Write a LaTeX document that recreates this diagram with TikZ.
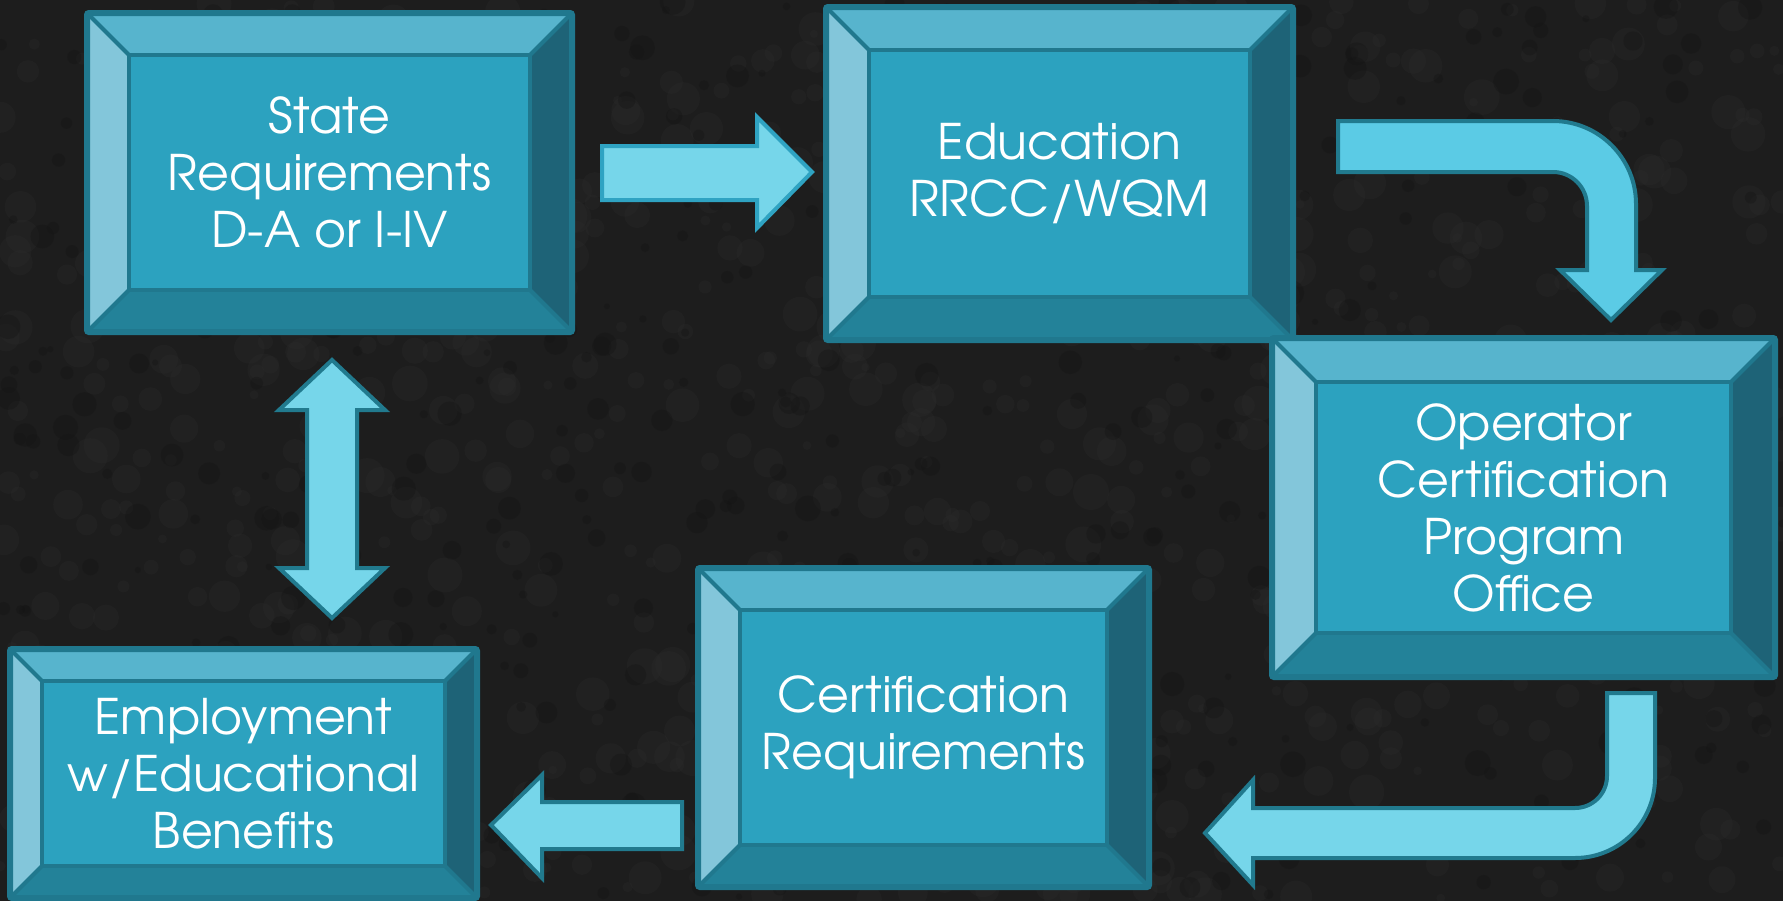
\documentclass[tikz,border=0pt]{standalone}
\usepackage{fontspec}
\setmainfont{texgyreadventor-regular.otf}
\begin{document}
\begin{tikzpicture}[x=1pt,y=-1pt]
\definecolor{bgcol}{HTML}{1D1D1D}
\definecolor{bgspeck}{HTML}{2A2A2A}
\definecolor{bgdark}{HTML}{141414}
\definecolor{facecol}{HTML}{2CA2BF}
\definecolor{topcol}{HTML}{57B4CD}
\definecolor{leftcol}{HTML}{83C6DA}
\definecolor{rightcol}{HTML}{1E6377}
\definecolor{botcol}{HTML}{238299}
\definecolor{edgecol}{HTML}{20788E}
\definecolor{arrowfill}{HTML}{76D6EA}
\definecolor{arrowfillb}{HTML}{5BCBE5}
\definecolor{arrowedge}{HTML}{217A8E}
\definecolor{arrowedgeb}{HTML}{2FA3C2}
\tikzset{
  boxtext/.style={text=white, align=center, inner sep=0pt,
    font=\fontsize{49}{57}\selectfont},
  blockarrow/.style={fill=arrowfill, draw=arrowedge, line width=4pt, line join=miter},
  bevline/.style={draw=edgecol, line width=4pt},
}
\newcommand\bevbox[7]{%
  \pgfmathsetmacro\ia{#2+#6}\pgfmathsetmacro\ib{#3+#6}%
  \pgfmathsetmacro\ic{#4-#6}\pgfmathsetmacro\id{#5-#6}%
  \fill[facecol] (\ia,\ib) rectangle (\ic,\id);
  \fill[topcol] (#2,#3) -- (#4,#3) -- (\ic,\ib) -- (\ia,\ib) -- cycle;
  \fill[leftcol] (#2,#3) -- (\ia,\ib) -- (\ia,\id) -- (#2,#5) -- cycle;
  \fill[rightcol] (#4,#3) -- (#4,#5) -- (\ic,\id) -- (\ic,\ib) -- cycle;
  \fill[botcol] (#2,#5) -- (#4,#5) -- (\ic,\id) -- (\ia,\id) -- cycle;
  \draw[bevline] (\ia,\ib) rectangle (\ic,\id);
  \draw[bevline] (#2,#3) -- (\ia,\ib) (#4,#3) -- (\ic,\ib) (#2,#5) -- (\ia,\id) (#4,#5) -- (\ic,\id);
  \draw[draw=edgecol, line width=6pt, rounded corners=2pt] (#2,#3) rectangle (#4,#5);
  \node[boxtext] (#1) at ({(#2+#4)/2},{(#3+#5)/2}) {#7};
}
\useasboundingbox (0,0) rectangle (1783,900);
% background (extends past the page edge on purpose)
\fill[bgcol] (-20,-20) rectangle (1803,920);
\begin{scope}
\clip (-20,-20) rectangle (1803,920);
\pgfmathsetseed{7}
\foreach \i in {1,...,900}{
  \pgfmathsetmacro\rx{rnd*1783}\pgfmathsetmacro\ry{rnd*900}\pgfmathsetmacro\rr{4+rnd*14}
  \fill[bgspeck, opacity=0.35] (\rx,\ry) circle (\rr);
}
\foreach \i in {1,...,500}{
  \pgfmathsetmacro\rx{rnd*1783}\pgfmathsetmacro\ry{rnd*900}\pgfmathsetmacro\rr{3+rnd*10}
  \fill[bgdark, opacity=0.35] (\rx,\ry) circle (\rr);
}
\end{scope}

% boxes
\bevbox{state}{87}{13}{572}{332}{42}{State\\Requirements\\D-A or I-IV}
\bevbox{edu}{826}{7}{1293}{340}{43}{Education\\RRCC/WQM}
\bevbox{ocpo}{1272}{338}{1775}{677}{44}{Operator\\Certification\\Program\\Office}
\bevbox{certreq}{698}{568}{1149}{887}{42}{Certification\\Requirements}
\bevbox{employ}{10}{649}{477}{898}{32}{Employment\\w/Educational\\Benefits}

% arrows
\path[blockarrow, draw=arrowedgeb] (602,146) -- (757,146) -- (757,117) -- (812,172) -- (757,228) -- (757,200) -- (602,200) -- cycle;

\path[blockarrow, fill=arrowfillb] (1338,121) -- (1553,121) .. controls (1598.8,121) and (1636,158.2) .. (1636,204) -- (1636,270) -- (1662,270) -- (1611,320) -- (1560,270) -- (1587,270) -- (1587,206) .. controls (1587,187.2) and (1571.8,172) .. (1553,172) -- (1338,172) -- cycle;

\path[blockarrow] (1607,693) -- (1655,693) -- (1655,778) .. controls (1655,822.2) and (1619.2,858) .. (1575,858) -- (1253,858) -- (1253,885) -- (1205,833) -- (1253,780) -- (1253,808) -- (1575,808) .. controls (1592.7,808) and (1607,793.7) .. (1607,776) -- cycle;

\path[blockarrow] (307,410) -- (279,410) -- (332,360) -- (385,410) -- (357,410) -- (357,568) -- (385,568) -- (332,618) -- (279,568) -- (307,568) -- cycle;

\path[blockarrow] (682,802) -- (542,802) -- (542,775) -- (491,825) -- (542,878) -- (542,849) -- (682,849) -- cycle;
\end{tikzpicture}
\end{document}
